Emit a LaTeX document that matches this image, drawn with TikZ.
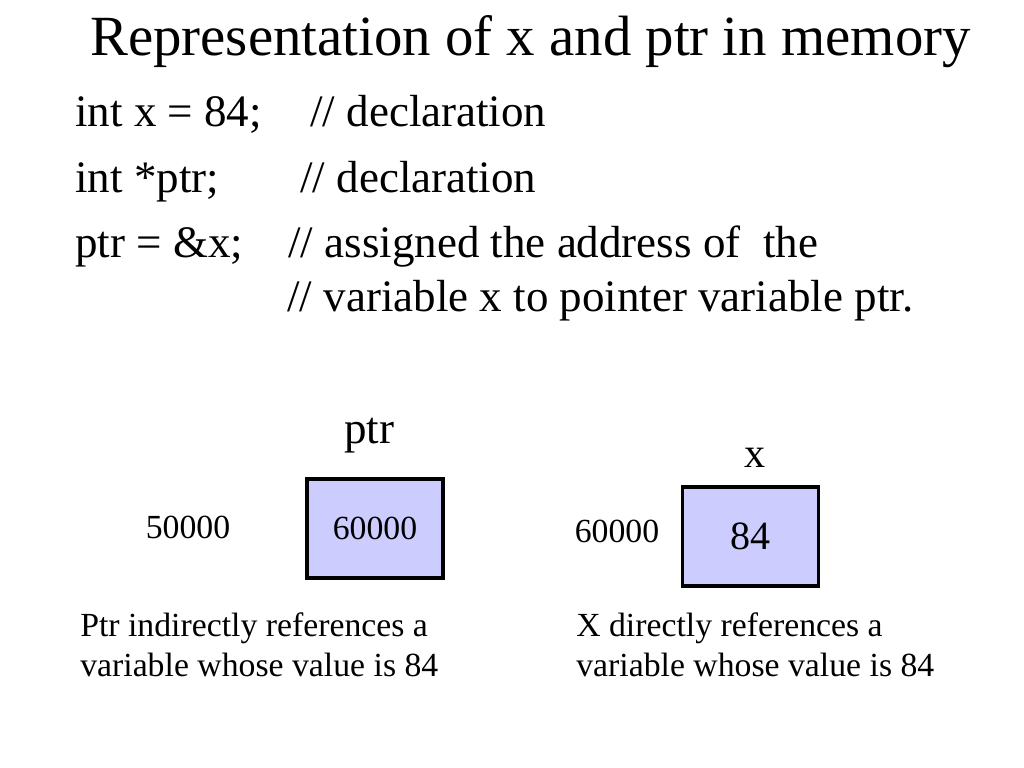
\documentclass[tikz,border=0pt]{standalone}
\usepackage{fontspec}
\setmainfont{Liberation Serif}
\usepackage{tikz}
\definecolor{cellblue}{HTML}{CCCCFF}

\tikzset{
  heading/.style={anchor=base west, inner sep=0pt, font=\fontsize{40.4}{48}\selectfont},
  codeline/.style={anchor=base west, inner sep=0pt, font=\fontsize{32}{38}\selectfont},
  small/.style={anchor=base, inner sep=0pt, font=\fontsize{24}{29}\selectfont},
  noteline/.style={anchor=base west, inner sep=0pt, font=\fontsize{24}{29}\selectfont},
  memcell/.style={draw, line width=2.8pt, fill=cellblue, minimum width=3.4cm, minimum height=2.475cm, inner sep=0pt}
}

\begin{document}
\begin{tikzpicture}[x=0.025cm, y=-0.025cm]
  \useasboundingbox[fill=white] (0,0) rectangle (1024,768);
  \node[heading] (title) at (90,56) {Representation of x and ptr in memory};

  \node[codeline] (decl1) at (75,127) {int x = 84;};
  \node[codeline] (com1) at (310,127) {// declaration};
  \node[codeline] (decl2) at (75,192) {int *ptr;};
  \node[codeline] (com2) at (300,192) {// declaration};
  \node[codeline] (assign) at (75,257) {ptr = \&x;};
  \node[codeline] (com3) at (288,257) {// assigned the address of\ \ the};
  \node[codeline] (com4) at (287,311) {// variable x to pointer variable ptr.};

  \node[memcell, font=\fontsize{24}{29}\selectfont] (ptrcell) at (375,528.5) {60000};
  \node[memcell, font=\fontsize{28.5}{34}\selectfont] (xcell) at (750.5,536.5) {84};
  \node[small, font=\fontsize{32}{38}\selectfont] (ptrname) at (369,443) {ptr};
  \node[small, font=\fontsize{30}{36}\selectfont] (xname) at (755,467) {x};
  \node[small] (ptraddr) at (188,538) {50000};
  \node[small] (xaddr) at (617,542) {60000};

  \node[noteline] (ptrnote1) at (80,636) {Ptr indirectly references a};
  \node[noteline] (ptrnote2) at (80,676) {variable whose value is 84};
  \node[noteline] (xnote1) at (576,636) {X directly references a};
  \node[noteline] (xnote2) at (576,676) {variable whose value is 84};
\end{tikzpicture}
\end{document}
